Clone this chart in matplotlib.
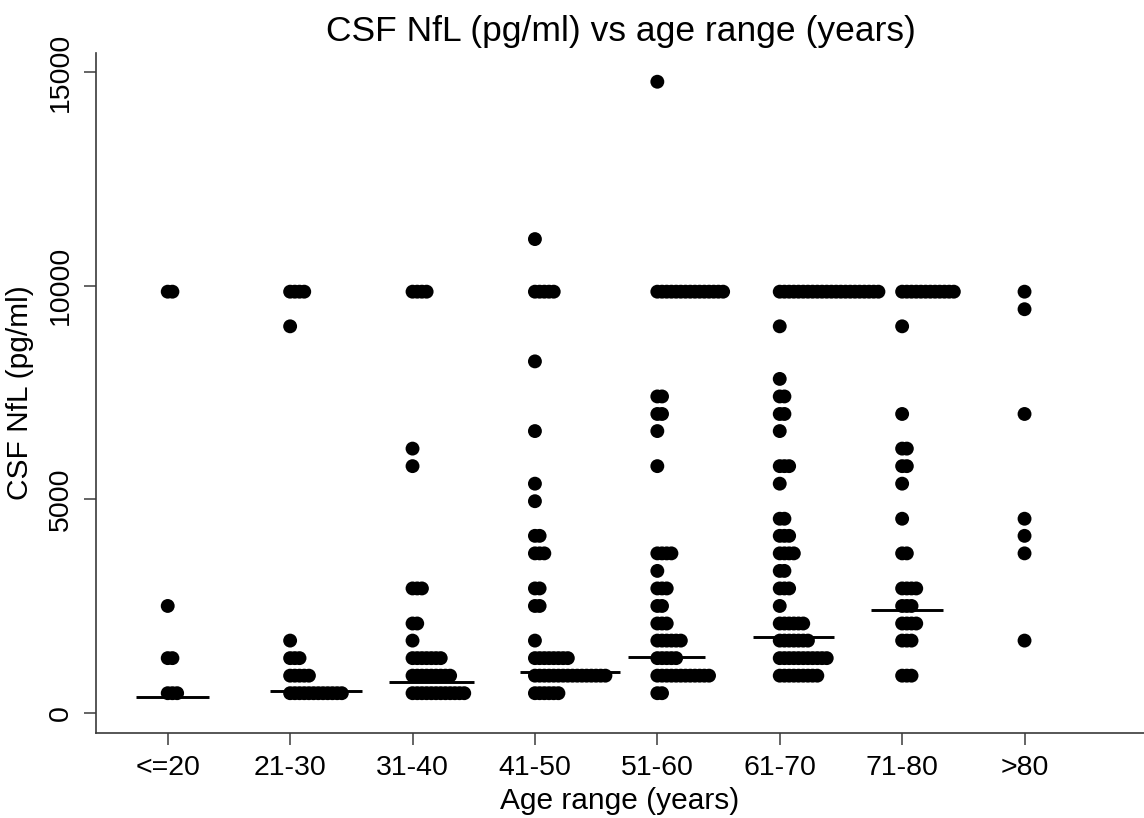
import numpy as np
import matplotlib
matplotlib.use("Agg")
import matplotlib.pyplot as plt

plt.rcParams['font.family'] = ['Liberation Sans', 'DejaVu Sans']

# ---- data ----
groups = ["<=20", "21-30", "31-40", "41-50", "51-60", "61-70", "71-80", ">80"]

le20_vals = [9860, 2510, 1290, 470]
le20_cnts = [2, 1, 2, 3]

g2130_vals = [9860, 9050, 1700, 1290, 880, 470]
g2130_cnts = [4, 1, 1, 3, 5, 12]

g3140_vals = [9860, 6190, 5780, 2920, 2100, 1700, 1290, 880, 470]
g3140_cnts = [4, 1, 1, 3, 2, 1, 7, 9, 12]

g4150_vals = [11090, 9860, 8230, 6600, 5370, 4960, 4150, 3740, 2920, 2510, 1700, 1290, 880, 470]
g4150_cnts = [1, 5, 1, 1, 1, 1, 2, 3, 2, 2, 1, 8, 16, 6]

g5160_vals = [14770, 9860, 7410, 7000, 6600, 5780, 3740, 3330, 2920, 2510, 2100, 1700, 1290, 880, 470]
g5160_cnts = [1, 15, 2, 2, 1, 1, 4, 1, 3, 2, 3, 6, 5, 12, 2]

g6170_vals = [9860, 9050, 7820, 7410, 7000, 6600, 5780, 5370, 4550, 4150, 3740, 3330, 2920, 2510, 2100, 1700, 1290, 880]
g6170_cnts = [22, 1, 1, 2, 2, 1, 3, 1, 2, 3, 4, 2, 3, 1, 6, 7, 11, 9]

g7180_vals = [9860, 9050, 7000, 6190, 5780, 5370, 4550, 3740, 2920, 2510, 2100, 1700, 880]
g7180_cnts = [12, 1, 1, 2, 2, 1, 1, 2, 4, 3, 4, 3, 3]

gt80_vals = [9860, 9450, 7000, 4550, 4150, 3740, 1700]
gt80_cnts = [1, 1, 1, 1, 1, 1, 1]

medians = [385, 530, 725, 959, 1305, 1777, 2416, None]

yticks = [0, 5000, 10000, 15000]

group_vals = [le20_vals, g2130_vals, g3140_vals, g4150_vals,
              g5160_vals, g6170_vals, g7180_vals, gt80_vals]
group_cnts = [le20_cnts, g2130_cnts, g3140_cnts, g4150_cnts,
              g5160_cnts, g6170_cnts, g7180_cnts, gt80_cnts]

# ---- layout / style ----
W, H = 1144, 818
fig = plt.figure(figsize=(W / 100, H / 100), dpi=100)
ax = fig.add_axes([96 / W, 1 - 732.7 / H, 1 - 96 / W, (732.7 - 53.3) / H])

dx = 0.0384          # horizontal spacing between stacked dots (group units)
dot_s = 10.0 ** 2    # marker area (pt^2)
px = 1 / 122.4       # one pixel in group units

for g, (vals, cnts) in enumerate(zip(group_vals, group_cnts)):
    xs, ys = [], []
    for v, c in zip(vals, cnts):
        xs.extend(g + np.arange(c) * dx)
        ys.extend([v] * c)
    ax.scatter(xs, ys, s=dot_s, color='black', edgecolors='none', zorder=3)

    m = medians[g]
    if m is not None:
        # centre the median bar on the dot row closest to the median
        k = int(np.argmin([abs(v - m) for v in vals]))
        n = cnts[k]
        center = g + (n - 1) * dx / 2
        row_w = (n - 1) * dx + 13.3 * px
        half = 0.23 * row_w + 31 * px
        ax.plot([center - half, center + half], [m, m], color='black',
                lw=2.1, solid_capstyle='butt', zorder=4)

ax.set_xlim(-0.586, 7.976)
ax.set_ylim(-454, 15435)

ax.set_xticks(range(len(groups)))
ax.set_xticklabels(groups)
ax.set_yticks(yticks)
ax.set_yticklabels([str(t) for t in yticks], rotation=90, va='center')

for side in ['top', 'right']:
    ax.spines[side].set_visible(False)
for side in ['left', 'bottom']:
    ax.spines[side].set_color('#3a3a3a')
    ax.spines[side].set_linewidth(1.2)

ax.tick_params(axis='both', length=8.6, width=1.1, color='#3a3a3a',
               labelsize=20.5, labelcolor='black', pad=7.5)

ax.set_xlabel("Age range (years)", fontsize=21.5, labelpad=4)
ax.set_ylabel("CSF NfL (pg/ml)", fontsize=21.5, labelpad=10)
fig.text(621 / W, 1 - 31 / H, "CSF NfL (pg/ml) vs age range (years)",
         ha='center', va='center', fontsize=25.5)

fig.savefig("out.png", dpi=100, facecolor='white')
